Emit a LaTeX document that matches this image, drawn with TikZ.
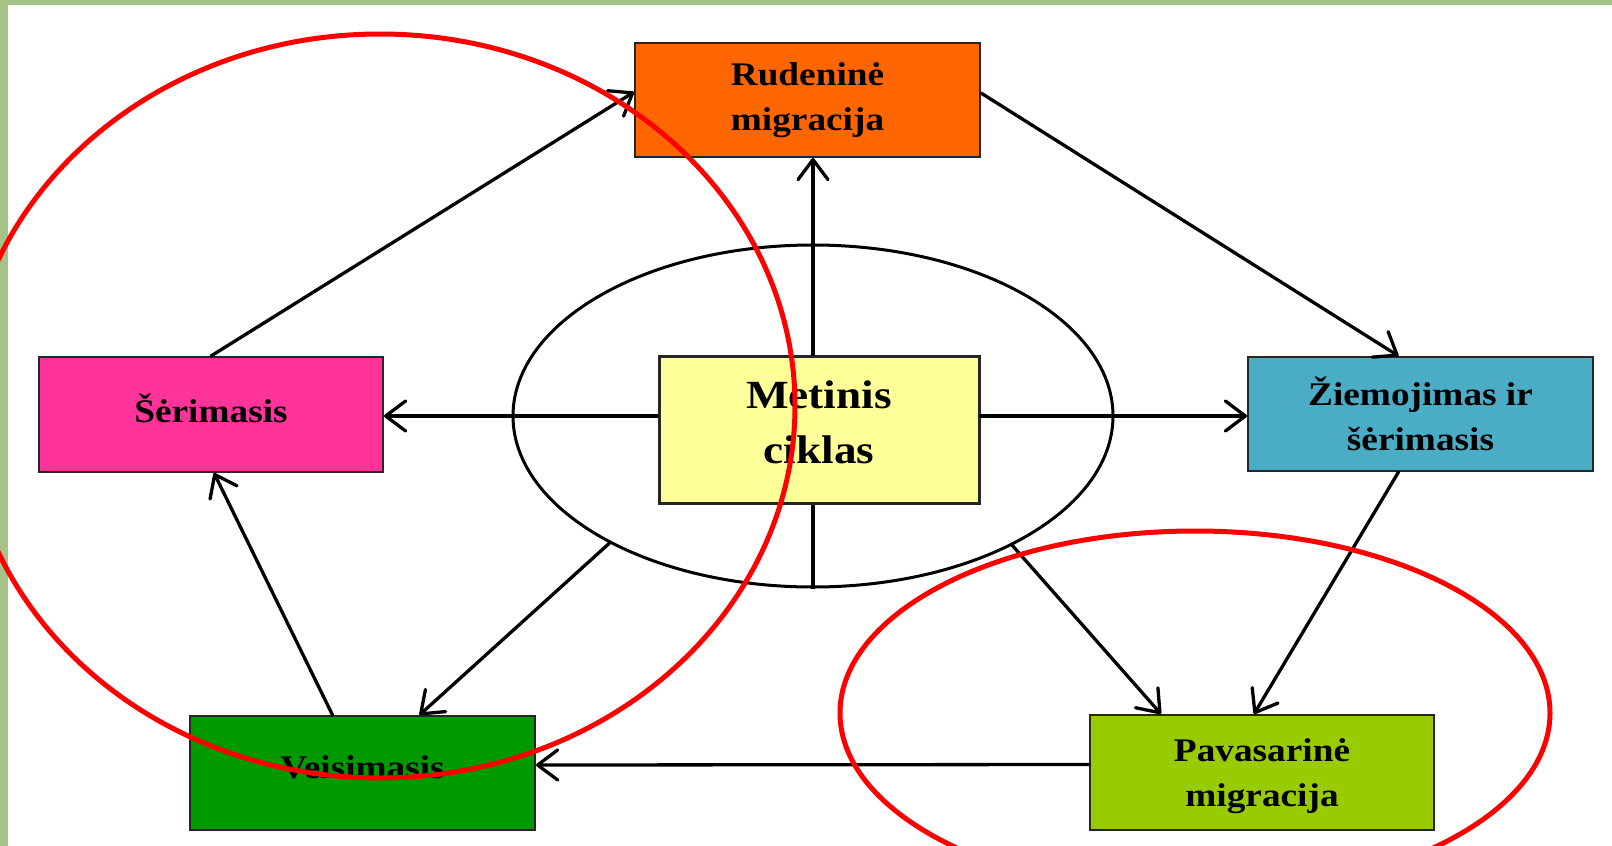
\documentclass[tikz,border=0pt]{standalone}
\usepackage{fontspec}
\setmainfont{Liberation Serif}[FakeStretch=1.13]
\usetikzlibrary{arrows.meta,shapes.geometric,calc}
\definecolor{bggreen}{RGB}{165,195,135}
\definecolor{cRud}{RGB}{255,102,0}
\definecolor{cMet}{RGB}{255,255,153}
\definecolor{cSer}{RGB}{255,51,153}
\definecolor{cZie}{RGB}{75,172,198}
\definecolor{cVei}{RGB}{0,153,0}
\definecolor{cPav}{RGB}{153,204,0}
\definecolor{cRed}{RGB}{255,0,0}
\tikzset{
  box/.style={draw=black!85, line width=2pt, minimum width=345pt, minimum height=114pt,
    inner sep=0pt, align=center, text=black,
    font=\bfseries\fontsize{33}{45}\selectfont},
  conn/.style={line width=3.3pt, draw=black, line cap=round,
    -{Straight Barb[length=20pt,width=30pt,round]}},
  plainconn/.style={line width=3.3pt, draw=black},
  redring/.style={draw=cRed, line width=5pt}
}
\begin{document}
\begin{tikzpicture}[x=1pt,y=-1pt]
\useasboundingbox (0,0) rectangle (1612,846);
\clip (0,0) rectangle (1612,846);
% background
\fill[bggreen] (0,0) rectangle (1612,846);
\fill[white] (8,5) rectangle (1612,846);
% central ellipse
\node[ellipse, draw=black, line width=3pt, minimum width=600pt, minimum height=342pt, inner sep=0pt] (ell) at (813,416) {};
% boxes
\node[box, fill=cRud] (rud) at (807.5,100) {Rudeninė\\migracija};
\node[box, fill=cMet, line width=3pt, minimum width=320pt, minimum height=147pt,
      text depth=14pt, font=\bfseries\fontsize{40}{55}\selectfont] (met) at (819,429.5) {Metinis\\ciklas};
\node[box, fill=cSer, minimum width=344pt, minimum height=115pt, text depth=12pt] (ser) at (211,414.5) {Šėrimasis};
\node[box, fill=cZie] (zie) at (1420.5,414) {Žiemojimas ir\\šėrimasis};
\node[box, fill=cVei, text depth=12pt] (vei) at (362.5,773) {Veisimasis};
\node[box, fill=cPav, minimum width=344pt, minimum height=115pt, text depth=0pt] (pav) at (1262,772.5) {Pavasarinė\\migracija};
% connectors
\draw[conn] (ser.north) -- ([yshift=8pt]rud.west);
\draw[conn] ([yshift=7pt]rud.east) -- ([xshift=-22pt]zie.north);
\draw[conn] (met.north -| ell.center) -- (rud.south -| ell.center);
\draw[conn] (met.west |- ell.center) -- (ser.east |- ell.center);
\draw[conn] (met.east |- ell.center) -- (zie.west |- ell.center);
\draw[plainconn] (met.south -| ell.center) -- (ell.south);
\draw[conn] (ell.212.7) -- ([xshift=57pt]vei.north);
\draw[conn] (ell.327.6) -- ([xshift=-101pt]pav.north);
\draw[conn] ([xshift=-22pt]zie.south) -- ([xshift=-8pt]pav.north);
\draw[conn] ([yshift=8pt]pav.west) -- ([yshift=8pt]vei.east);
\draw[conn] ([xshift=-30pt]vei.north) -- ([xshift=3pt]ser.south);
% red highlight rings
\draw[redring] (380,406) ellipse [x radius=415pt, y radius=372pt];
\draw[redring] (1195,713) ellipse [x radius=355pt, y radius=182pt];
\end{tikzpicture}
\end{document}
